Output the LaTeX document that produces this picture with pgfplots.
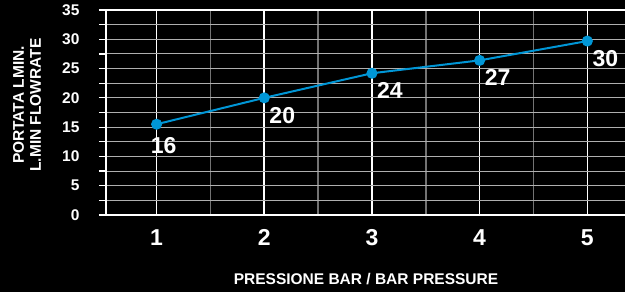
\documentclass[border=0pt]{standalone}
\usepackage{pgfplots}
\pgfplotsset{compat=1.18}
\usepackage{fontspec}
\setmainfont{Liberation Sans}
\definecolor{lineblue}{RGB}{0,150,214}
\definecolor{gridgray}{RGB}{175,175,175}
\definecolor{halfgray}{RGB}{115,115,115}
\begin{document}
\begin{tikzpicture}[x=1pt,y=1pt]
\fill[black] (0,0) rectangle (625,292);
\useasboundingbox (0,0) rectangle (625,292);
\begin{axis}[
  at={(106pt,77pt)}, anchor=south west,
  scale only axis, width=519pt, height=205pt,
  xmin=0.53, xmax=5.35, ymin=0, ymax=35,
  axis x line*=bottom, axis y line*=left,
  axis line style={white, line width=1.6pt, -},
  xtick={1,2,3,4,5}, minor xtick={1.5,2.5,3.5,4.5},
  ytick={0,5,...,30}, minor ytick={2.5,7.5,...,32.5},
  extra y ticks={35},
  extra y tick style={major y grid style={white, line width=1.6pt}},
  grid=both,
  major x grid style={white, line width=1.6pt},
  minor x grid style={halfgray, line width=1.5pt},
  major y grid style={gridgray, line width=1.1pt},
  minor y grid style={gridgray, line width=1.1pt},
  tick align=outside,
  major tick length=7pt, minor tick length=7pt,
  y tick style={white, line width=1.2pt},
  x tick style={draw=none},
  /pgf/number format/assume math mode=true,
  yticklabel style={font=\fontsize{15.5}{16}\selectfont\bfseries, text=white, xshift=-16pt},
  xticklabel style={font=\fontsize{23}{24}\selectfont\bfseries, text=white, yshift=-4pt},
  clip=false,
]
\addplot[lineblue, line width=2pt, mark=*, mark size=4.5pt, mark options={fill=lineblue, draw=lineblue}]
  coordinates {(1,15.5) (2,20.0) (3,24.2) (4,26.4) (5,29.7)};
\addplot[draw=none, mark=none, point meta=explicit symbolic,
  nodes near coords,
  every node near coord/.append style={anchor=north west, inner sep=0pt, xshift=5pt, yshift=-9pt, text=white, font=\fontsize{23}{24}\selectfont\bfseries}]
  coordinates {(2,20.0)[20] (3,24.2)[24] (4,26.4)[27] (5,29.7)[30]};
\addplot[draw=none, mark=none, point meta=explicit symbolic,
  nodes near coords,
  every node near coord/.append style={anchor=north, inner sep=0pt, xshift=7pt, yshift=-13pt, text=white, font=\fontsize{23}{24}\selectfont\bfseries}]
  coordinates {(1,15.5)[16]};
\end{axis}
\node[text=white, font=\fontsize{15.5}{16}\selectfont\bfseries] at (366,12.5) {PRESSIONE BAR / BAR PRESSURE};
\node[text=white, rotate=90, align=center, font=\fontsize{15.5}{17}\selectfont\bfseries] at (27,187) {PORTATA LMIN.\\L.MIN FLOWRATE};
\end{tikzpicture}
\end{document}
